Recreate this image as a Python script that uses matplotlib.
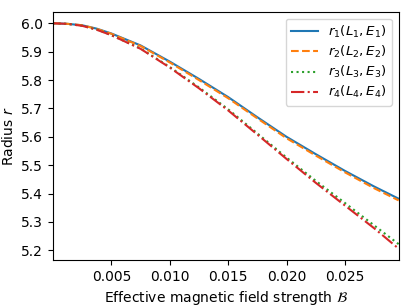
import matplotlib
matplotlib.use("Agg")
import matplotlib.pyplot as plt
from matplotlib.ticker import MultipleLocator

B = [0.0, 0.00125, 0.0025, 0.00375, 0.005, 0.0075, 0.010, 0.0125, 0.015, 0.0175, 0.020, 0.0225, 0.025, 0.0275, 0.0296]
r1 = [6.000, 5.998, 5.993, 5.981, 5.964, 5.922, 5.865, 5.804, 5.740, 5.669, 5.600, 5.539, 5.480, 5.425, 5.382]
r2 = [6.000, 5.998, 5.993, 5.980, 5.963, 5.920, 5.862, 5.800, 5.736, 5.665, 5.595, 5.534, 5.475, 5.419, 5.376]
r3 = [6.000, 5.998, 5.991, 5.978, 5.958, 5.911, 5.846, 5.774, 5.697, 5.612, 5.527, 5.445, 5.367, 5.288, 5.222]
r4 = [6.000, 5.998, 5.991, 5.977, 5.958, 5.910, 5.844, 5.771, 5.693, 5.608, 5.522, 5.438, 5.358, 5.278, 5.206]
labels = [r"$r_1(L_1,E_1)$", r"$r_2(L_2,E_2)$", r"$r_3(L_3,E_3)$", r"$r_4(L_4,E_4)$"]
xticks = [0.005, 0.010, 0.015, 0.020, 0.025]

fig = plt.figure(figsize=(4.11, 3.08), dpi=100)
ax = fig.add_axes([0.129, 0.156, 0.841, 0.805])
styles = ["-", "--", ":", "-."]
for y, lab, ls in zip([r1, r2, r3, r4], labels, styles):
    ax.plot(B, y, ls, label=lab)
ax.set_xlim(0, B[-1])
ax.set_xticks(xticks)
ax.yaxis.set_major_locator(MultipleLocator(0.1))
ax.set_xlabel(r"Effective magnetic field strength $\mathcal{B}$")
ax.set_ylabel(r"Radius $r$")
ax.legend(loc="upper right", fontsize=9.6, labelspacing=0.3)
fig.savefig("out.png", dpi=100)
